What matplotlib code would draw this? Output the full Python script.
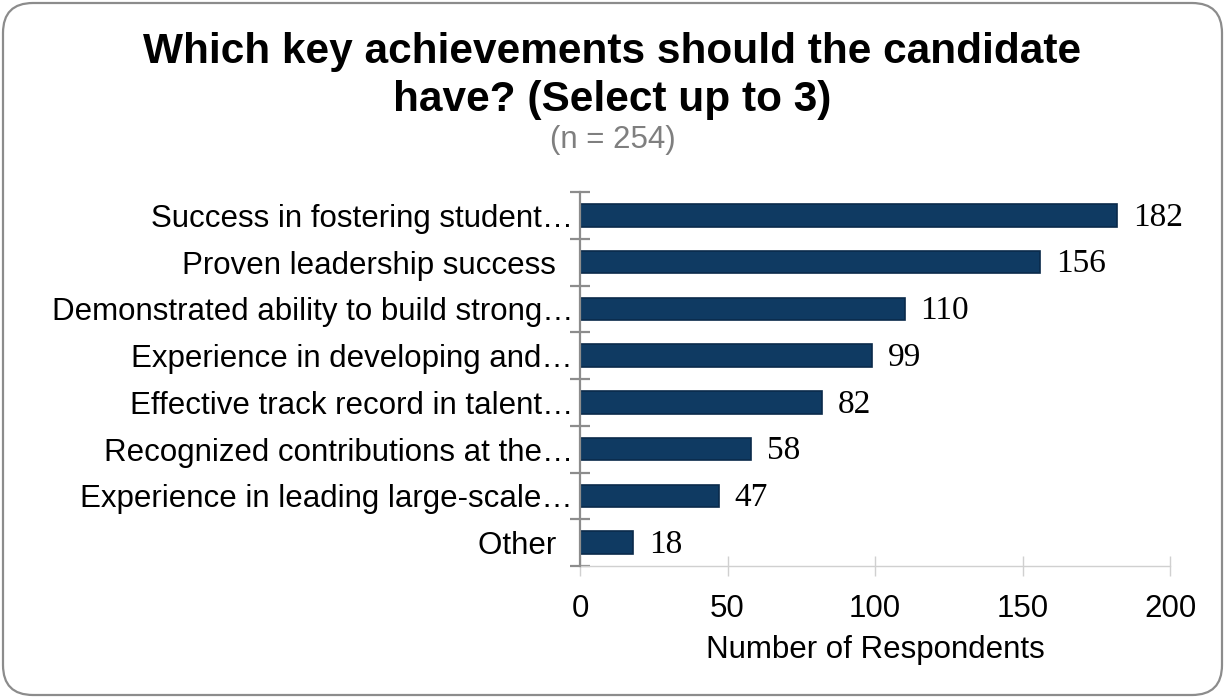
import matplotlib
matplotlib.use("Agg")
import matplotlib.pyplot as plt
from matplotlib.patches import FancyBboxPatch
import numpy as np

categories = [
    "Success in fostering student\u2026",
    "Proven leadership success  ",
    "Demonstrated ability to build strong\u2026",
    "Experience in developing and\u2026",
    "Effective track record in talent\u2026",
    "Recognized contributions at the\u2026",
    "Experience in leading large-scale\u2026",
    "Other  ",
]
respondents = [182, 156, 110, 99, 82, 58, 47, 18]
x_ticks = [0, 50, 100, 150, 200]

title_lines = ["Which key achievements should the candidate", "have? (Select up to 3)"]
subtitle = "(n = 254)"
x_label = "Number of Respondents"

W, H, DPI = 1225, 698, 100
fig = plt.figure(figsize=(W / DPI, H / DPI), dpi=DPI)
fig.patch.set_facecolor("white")

def px_x(v):
    return v / W

def px_y(v):
    return 1 - v / H

ax = fig.add_axes([px_x(580), px_y(566), px_x(1170) - px_x(580), px_y(192) - px_y(566)])

y = np.arange(len(categories))
ax.barh(y, respondents, height=0.48, color="#0F3A62", edgecolor="#0A2A4A", linewidth=1.2, zorder=3)
ax.set_xlim(0, 200)
ax.set_ylim(len(categories) - 0.5, -0.5)

for yi, v in zip(y, respondents):
    ax.annotate(str(v), (v, yi), xytext=(11.5, -1.5), textcoords="offset points",
                va="center", ha="left", fontsize=24, family="Liberation Serif", color="#000000")

ax.set_yticks(y)
ax.set_yticklabels(categories, fontsize=22.5, family="Liberation Sans")
ax.set_yticks(np.arange(-0.5, len(categories), 1), minor=True)
ax.tick_params(axis="y", which="major", length=0, pad=5)
ax.tick_params(axis="y", which="minor", length=14.4, width=1.6, direction="inout", color="#8C8C8C")

ax.set_xticks(x_ticks)
ax.set_xticklabels([str(t) for t in x_ticks], fontsize=22.5, family="Liberation Sans")
ax.tick_params(axis="x", which="major", length=14.4, width=1.0, direction="inout",
               color="#D0D0D0", pad=13)
ax.set_xlabel(x_label, fontsize=22.5, family="Liberation Sans", labelpad=8)

for side in ("top", "right"):
    ax.spines[side].set_visible(False)
ax.spines["left"].set_color("#8C8C8C")
ax.spines["left"].set_linewidth(1.6)
ax.spines["bottom"].set_color("#D0D0D0")
ax.spines["bottom"].set_linewidth(1.0)
ax.spines["left"].set_zorder(4)

fig.text(0.5, px_y(63), title_lines[0], ha="center", va="baseline", fontsize=30.5,
         fontweight="bold", family="Liberation Sans")
fig.text(0.5, px_y(111), title_lines[1], ha="center", va="baseline", fontsize=30.5,
         fontweight="bold", family="Liberation Sans")
fig.text(0.5, px_y(148), subtitle, ha="center", va="baseline", fontsize=22.5,
         family="Liberation Sans", color="#7F7F7F")

frame = FancyBboxPatch((3 / DPI, 3 / DPI), (W - 6) / DPI, (H - 6) / DPI,
                       boxstyle="round,pad=0,rounding_size=0.3",
                       transform=fig.dpi_scale_trans, facecolor="none",
                       edgecolor="#8C8C8C", linewidth=1.6)
fig.patches.append(frame)

fig.savefig("out.png", dpi=DPI)
